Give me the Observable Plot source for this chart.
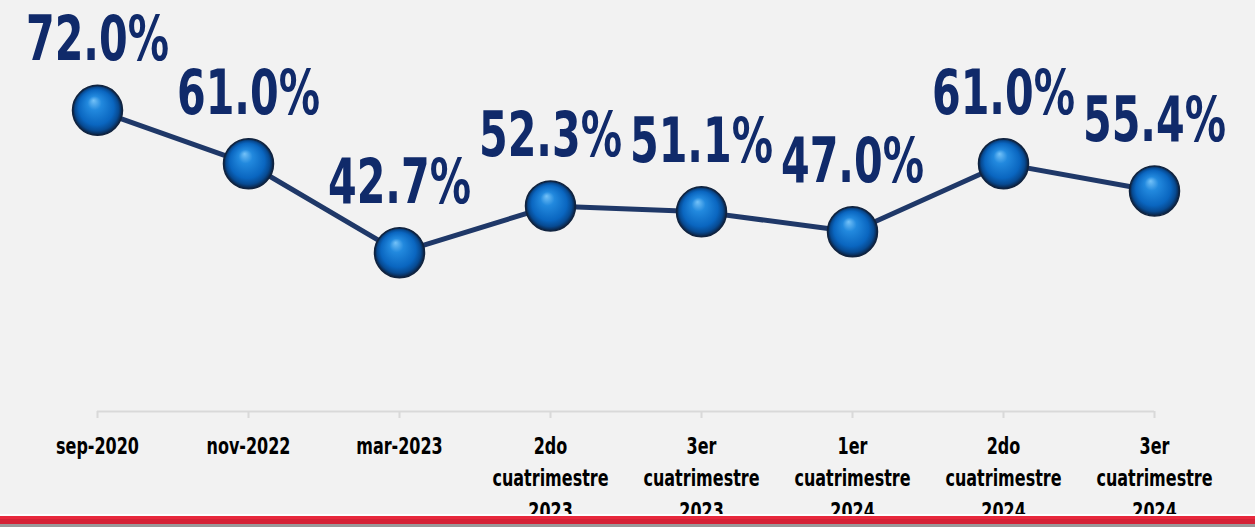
<!DOCTYPE html>
<html>
<head>
<meta charset="utf-8">
<script src="https://cdn.jsdelivr.net/npm/d3@7"></script>
<script src="https://cdn.jsdelivr.net/npm/@observablehq/plot@0.6"></script>
<style>
  html, body { margin: 0; padding: 0; background: #f2f2f2; overflow: hidden; }
  #wrap { position: relative; width: 1255px; height: 527px; }
  #bar { position: absolute; left: 0; top: 514px; width: 1255px; height: 13px;
         background: linear-gradient(#ffffff 0 2px, #e8283c 2px 5px, #d42236 5px 10px, #9a9a9a 10px 13px); }
</style>
</head>
<body>
<div id="wrap"><div id="chart"></div><div id="bar"></div></div>
<svg width="0" height="0" style="position:absolute">
  <defs>
    <radialGradient id="sphere" cx="50%" cy="50%" r="50%" fx="42%" fy="30%">
      <stop offset="0" stop-color="#74c2f8"/>
      <stop offset="0.28" stop-color="#2289de"/>
      <stop offset="0.7" stop-color="#0a66c0"/>
      <stop offset="0.87" stop-color="#074a92"/>
      <stop offset="1" stop-color="#0c1f3c"/>
    </radialGradient>
  </defs>
</svg>
<script>
const categories = [
  "sep-2020",
  "nov-2022",
  "mar-2023",
  "2do\ncuatrimestre\n2023",
  "3er\ncuatrimestre\n2023",
  "1er\ncuatrimestre\n2024",
  "2do\ncuatrimestre\n2024",
  "3er\ncuatrimestre\n2024"
];
const values = [72.0, 61.0, 42.7, 52.3, 51.1, 47.0, 61.0, 55.4];

const data = categories.map((c, i) => ({cat: c, value: values[i]}));
const font = "'DejaVu Sans', sans-serif";

const chart = Plot.plot({
  width: 1255,
  height: 527,
  marginLeft: 94,
  marginRight: 98,
  marginTop: 71,
  marginBottom: 116,
  style: {background: "transparent", fontFamily: font, fontStretch: "condensed"},
  x: {type: "point", domain: categories, padding: 0},
  y: {domain: [10, 80], axis: null},
  marks: [
    Plot.ruleY([{y: 10, a: categories[0], b: categories[categories.length - 1]}],
      {y: "y", x1: "a", x2: "b", stroke: "#d9d9d9", strokeWidth: 2}),
    Plot.axisX({
      anchor: "bottom",
      tickSize: 7,
      tickPadding: 12,
      stroke: "#d9d9d9",
      strokeWidth: 2,
      fontSize: 23,
      fontWeight: "bold",
      fill: "#000",
      lineHeight: 1.42,
      label: null,
      className: "xlab"
    }),
    Plot.line(data, {x: "cat", y: "value", stroke: "#1f3868", strokeWidth: 5}),
    Plot.dot(data, {x: "cat", y: "value", r: 25, fill: "url(#sphere)", stroke: "#10233f", strokeWidth: 1.5}),
    Plot.text(data, {
      x: "cat", y: "value",
      text: d => d.value.toFixed(1) + "%",
      dy: -50,
      lineAnchor: "bottom",
      fontSize: 62,
      fontWeight: "bold",
      fill: "#102a6a",
      className: "vlab"
    })
  ]
});
document.getElementById("chart").appendChild(chart);

// narrow the glyphs horizontally to match the condensed typeface of the reference
function squeeze(selector, refIndex, targetWidth) {
  const texts = Array.from(chart.querySelectorAll(selector + " text"));
  if (!texts.length) return;
  const w = texts[refIndex].getBBox().width;
  const s = Math.min(1, targetWidth / w);
  texts.forEach(t => {
    const tr = t.getAttribute("transform") || "";
    t.setAttribute("transform", tr + ` scale(${s},1)`);
  });
}
squeeze(".vlab", 0, 143);
squeeze(".xlab", 0, 83);
</script>
</body>
</html>
